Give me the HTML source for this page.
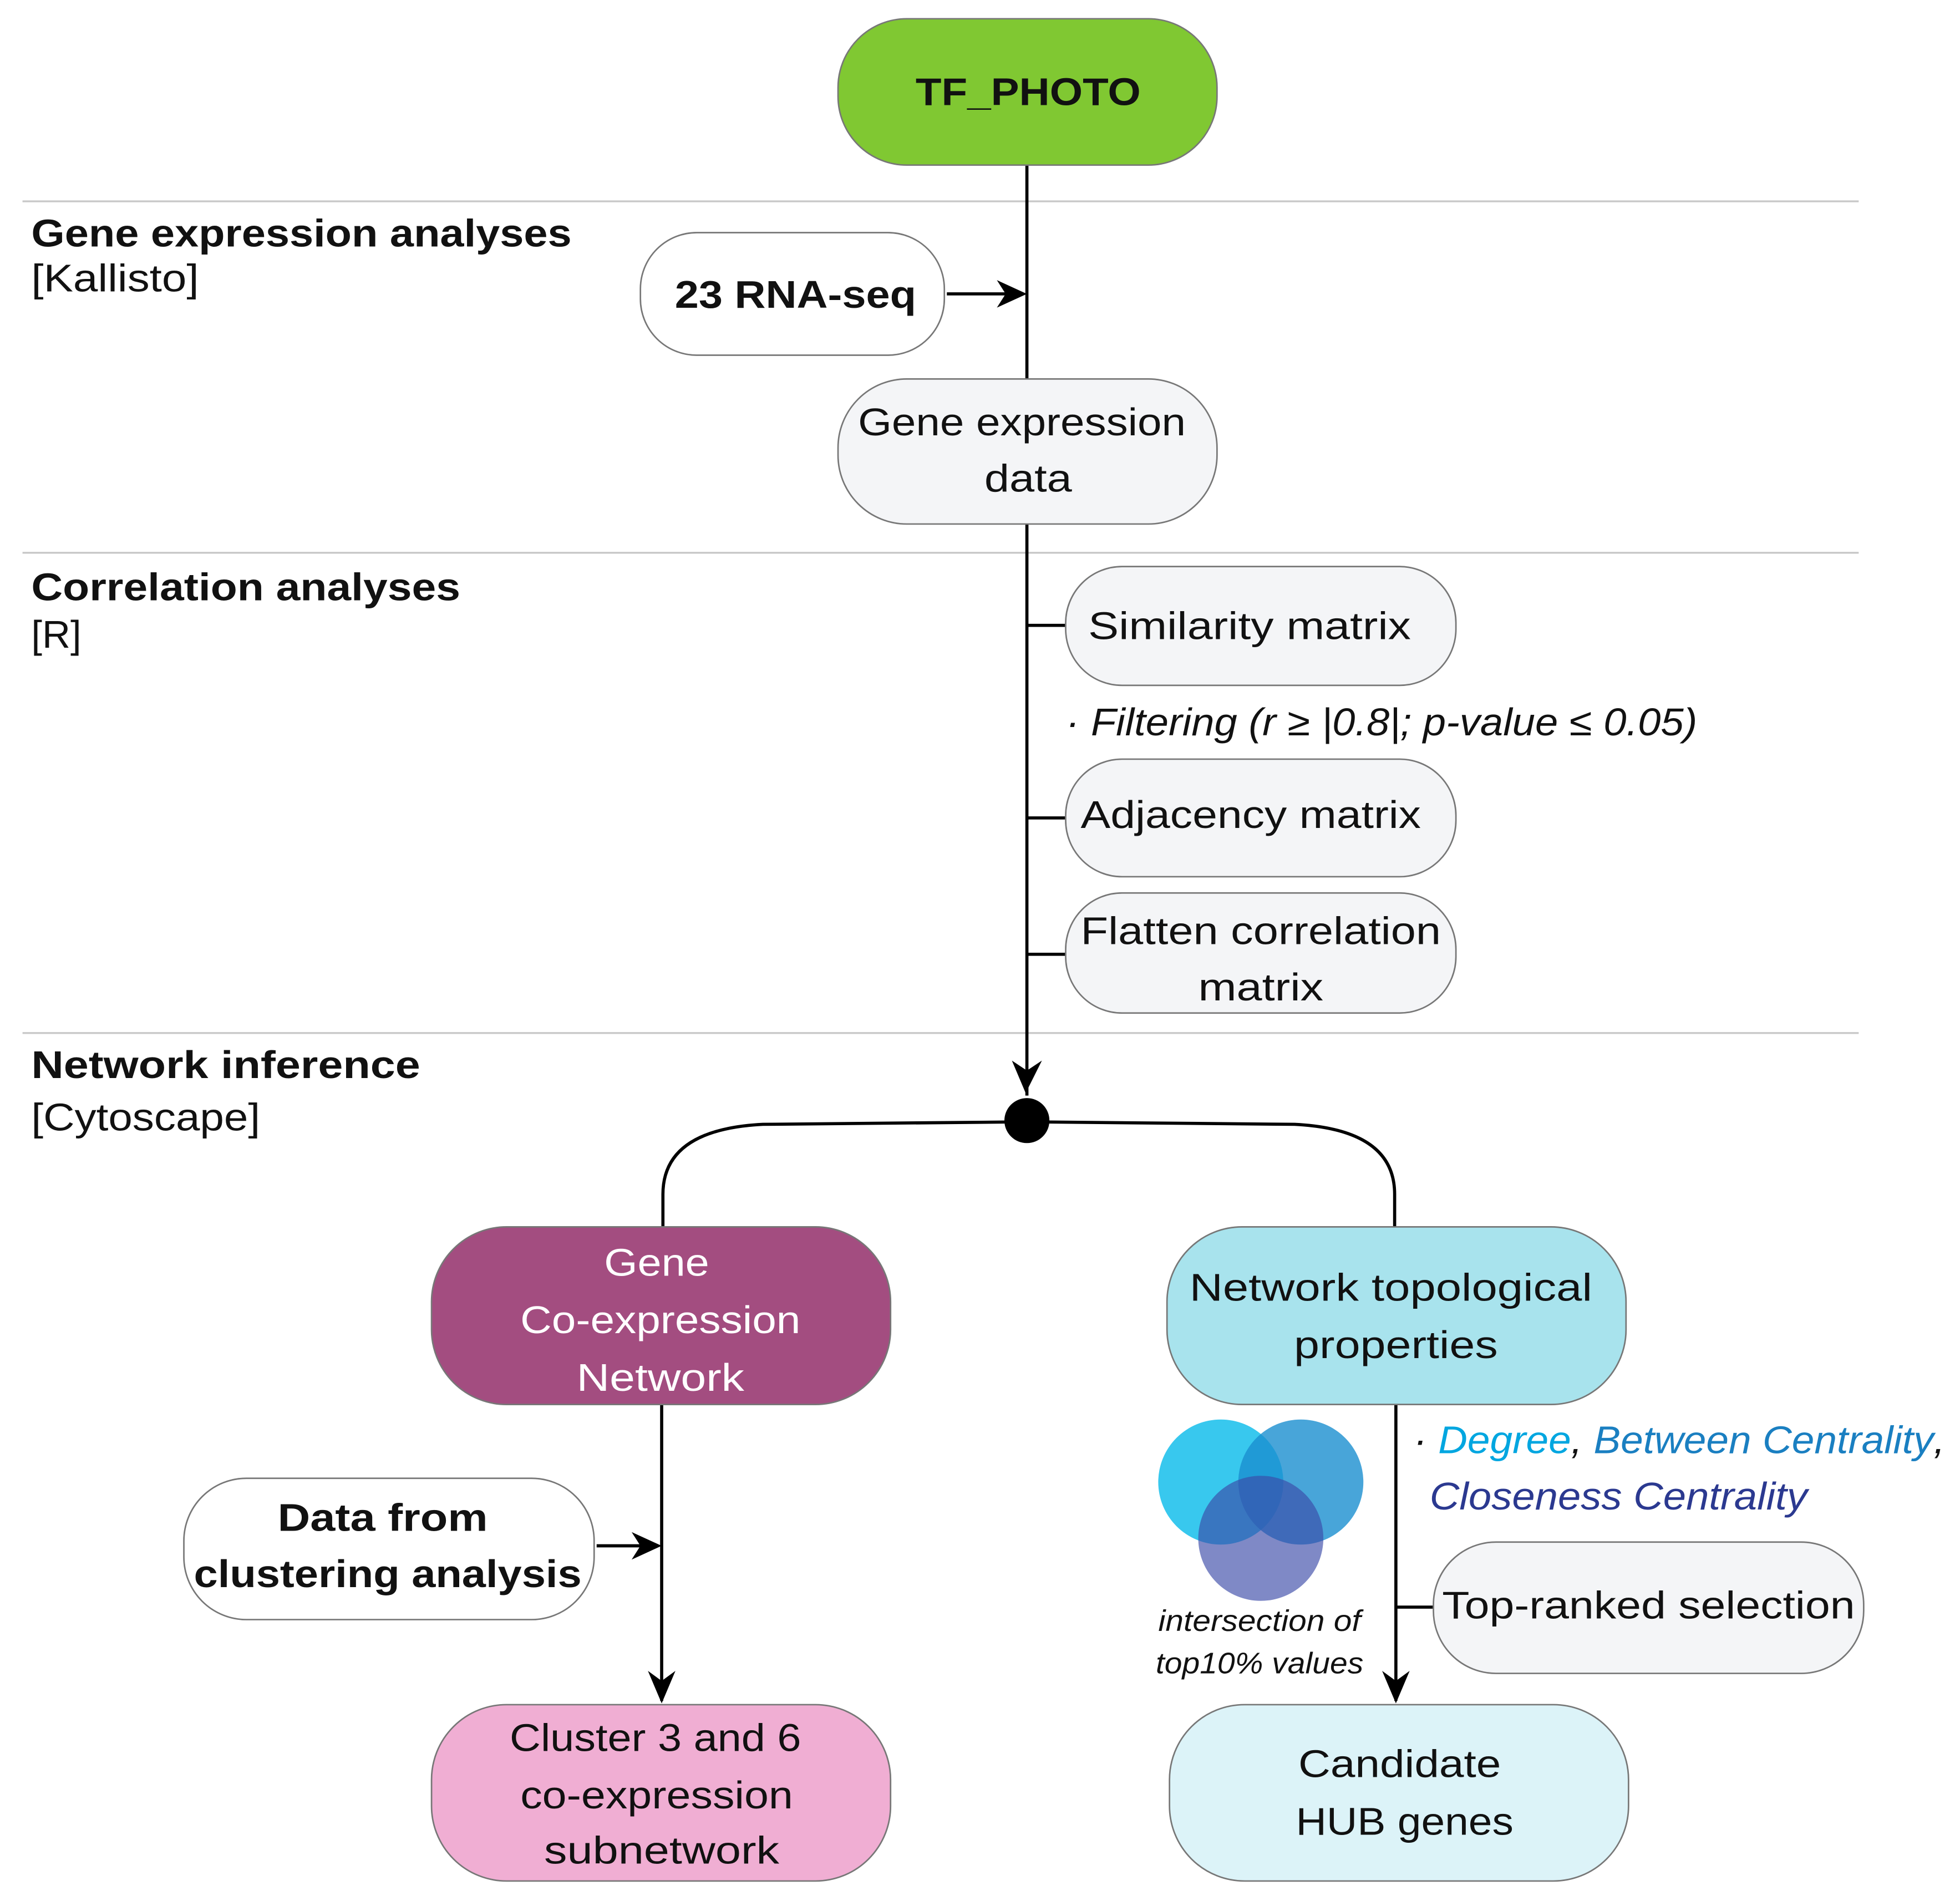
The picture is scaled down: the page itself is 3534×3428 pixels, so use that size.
<!DOCTYPE html>
<html><head><meta charset="utf-8"><style>
html,body{margin:0;padding:0;background:#fff}
svg{display:block}
text{font-family:"Liberation Sans",sans-serif;font-size:31px;fill:#111}
.b{font-weight:bold}
.i{font-style:italic}
</style></head><body>
<svg width="3534" height="3428" viewBox="0 0 1567 1520" preserveAspectRatio="none" xmlns="http://www.w3.org/2000/svg">
<g stroke="#c8c8c8" stroke-width="1.5">
<line x1="18" y1="161" x2="1486" y2="161"/><line x1="18" y1="442" x2="1486" y2="442"/><line x1="18" y1="826" x2="1486" y2="826"/>
</g>
<g stroke="#000" stroke-width="2.5" fill="none">
<line x1="821" y1="132" x2="821" y2="303"/>
<line x1="821" y1="419" x2="821" y2="876"/>
<path d="M820,874 L809,848 L821,856 L833,848 Z" fill="#000" stroke="none"/>
<line x1="821" y1="500" x2="852" y2="500"/><line x1="821" y1="654" x2="852" y2="654"/><line x1="821" y1="763" x2="852" y2="763"/>
<line x1="757" y1="235" x2="818" y2="235"/>
<path d="M821,235 L797,224 L804,235 L797,246 Z" fill="#000" stroke="none"/>
<path d="M821,897 L610,899 Q530,903 530,955 L530,981"/>
<path d="M821,897 L1035,899 Q1115,903 1115,955 L1115,981"/>
<line x1="529" y1="1123" x2="529" y2="1360"/>
<path d="M529,1362 L518,1336 L529,1344 L540,1336 Z" fill="#000" stroke="none"/>
<line x1="477" y1="1236" x2="526" y2="1236"/>
<path d="M529,1236 L505,1225 L512,1236 L505,1247 Z" fill="#000" stroke="none"/>
<line x1="1116" y1="1123" x2="1116" y2="1360"/>
<path d="M1116,1362 L1105,1336 L1116,1344 L1127,1336 Z" fill="#000" stroke="none"/>
<line x1="1116" y1="1285" x2="1146" y2="1285"/>
</g>
<circle cx="821" cy="896" r="18" fill="#000"/>
<g stroke="#777" stroke-width="1.2">
<rect x="670" y="15" width="303" height="117" rx="55" fill="#80c832"/>
<rect x="512" y="186" width="243" height="98" rx="45" fill="#fff"/>
<rect x="670" y="303" width="303" height="116" rx="55" fill="#f4f5f7"/>
<rect x="852" y="453" width="312" height="95" rx="45" fill="#f4f5f7"/>
<rect x="852" y="607" width="312" height="94" rx="45" fill="#f4f5f7"/>
<rect x="852" y="714" width="312" height="96" rx="45" fill="#f4f5f7"/>
<rect x="345" y="981" width="367" height="142" rx="60" fill="#a34d80"/>
<rect x="933" y="981" width="367" height="142" rx="60" fill="#a8e3ed"/>
<rect x="147" y="1182" width="328" height="113" rx="50" fill="#fff"/>
<rect x="345" y="1363" width="367" height="141" rx="60" fill="#f0aed3"/>
<rect x="1146" y="1233" width="344" height="105" rx="50" fill="#f4f5f7"/>
<rect x="935" y="1363" width="367" height="141" rx="60" fill="#dcf3f8"/>
</g>
<circle cx="976" cy="1185" r="50" fill="#38c8ee"/>
<circle cx="1040" cy="1185" r="50" fill="#1a8fd0" fill-opacity="0.8"/>
<circle cx="1008" cy="1230" r="50" fill="#3a4aa8" fill-opacity="0.65"/>
<text x="822" y="84" text-anchor="middle" class="b" textLength="180" lengthAdjust="spacingAndGlyphs">TF_PHOTO</text>
<text x="25" y="197" class="b" textLength="432" lengthAdjust="spacingAndGlyphs">Gene expression analyses</text>
<text x="25" y="233" textLength="134" lengthAdjust="spacingAndGlyphs">[Kallisto]</text>
<text x="636" y="246" text-anchor="middle" class="b" textLength="193" lengthAdjust="spacingAndGlyphs">23 RNA-seq</text>
<text x="817" y="348" text-anchor="middle" textLength="262" lengthAdjust="spacingAndGlyphs">Gene expression</text>
<text x="822" y="393" text-anchor="middle" textLength="70" lengthAdjust="spacingAndGlyphs">data</text>
<text x="25" y="480" class="b" textLength="343" lengthAdjust="spacingAndGlyphs">Correlation analyses</text>
<text x="25" y="518" textLength="40" lengthAdjust="spacingAndGlyphs">[R]</text>
<text x="999" y="511" text-anchor="middle" textLength="258" lengthAdjust="spacingAndGlyphs">Similarity matrix</text>
<text x="852" y="588" class="i" textLength="505" lengthAdjust="spacingAndGlyphs">· Filtering (r ≥ |0.8|; p-value ≤ 0.05)</text>
<text x="1000" y="662" text-anchor="middle" textLength="272" lengthAdjust="spacingAndGlyphs">Adjacency matrix</text>
<text x="1008" y="755" text-anchor="middle" textLength="288" lengthAdjust="spacingAndGlyphs">Flatten correlation</text>
<text x="1008" y="800" text-anchor="middle" textLength="100" lengthAdjust="spacingAndGlyphs">matrix</text>
<text x="25" y="862" class="b" textLength="311" lengthAdjust="spacingAndGlyphs">Network inference</text>
<text x="25" y="904" textLength="183" lengthAdjust="spacingAndGlyphs">[Cytoscape]</text>
<text x="525" y="1020" text-anchor="middle" style="fill:#fff" textLength="84" lengthAdjust="spacingAndGlyphs">Gene</text>
<text x="528" y="1066" text-anchor="middle" style="fill:#fff" textLength="224" lengthAdjust="spacingAndGlyphs">Co-expression</text>
<text x="528" y="1112" text-anchor="middle" style="fill:#fff" textLength="134" lengthAdjust="spacingAndGlyphs">Network</text>
<text x="1112" y="1040" text-anchor="middle" textLength="322" lengthAdjust="spacingAndGlyphs">Network topological</text>
<text x="1116" y="1086" text-anchor="middle" textLength="163" lengthAdjust="spacingAndGlyphs">properties</text>
<text x="306" y="1224" text-anchor="middle" class="b" textLength="168" lengthAdjust="spacingAndGlyphs">Data from</text>
<text x="310" y="1269" text-anchor="middle" class="b" textLength="310" lengthAdjust="spacingAndGlyphs">clustering analysis</text>
<text x="524" y="1400" text-anchor="middle" textLength="233" lengthAdjust="spacingAndGlyphs">Cluster 3 and 6</text>
<text x="525" y="1446" text-anchor="middle" textLength="218" lengthAdjust="spacingAndGlyphs">co-expression</text>
<text x="529" y="1490" text-anchor="middle" textLength="188" lengthAdjust="spacingAndGlyphs">subnetwork</text>
<text x="1130" y="1162" class="i" textLength="425" lengthAdjust="spacingAndGlyphs"><tspan>· </tspan><tspan style="fill:#00a6e0">Degree</tspan><tspan>, </tspan><tspan style="fill:#1a7fc1">Between Centrality</tspan><tspan>,</tspan></text>
<text x="1143" y="1207" class="i" style="fill:#2b3990" textLength="302" lengthAdjust="spacingAndGlyphs">Closeness Centrality</text>
<text x="1007" y="1304" text-anchor="middle" class="i" style="font-size:24px" textLength="162" lengthAdjust="spacingAndGlyphs">intersection of</text>
<text x="1007" y="1338" text-anchor="middle" class="i" style="font-size:24px" textLength="166" lengthAdjust="spacingAndGlyphs">top10% values</text>
<text x="1318" y="1294" text-anchor="middle" textLength="330" lengthAdjust="spacingAndGlyphs">Top-ranked selection</text>
<text x="1119" y="1421" text-anchor="middle" textLength="162" lengthAdjust="spacingAndGlyphs">Candidate</text>
<text x="1123" y="1467" text-anchor="middle" textLength="174" lengthAdjust="spacingAndGlyphs">HUB genes</text>
</svg>
</body></html>
